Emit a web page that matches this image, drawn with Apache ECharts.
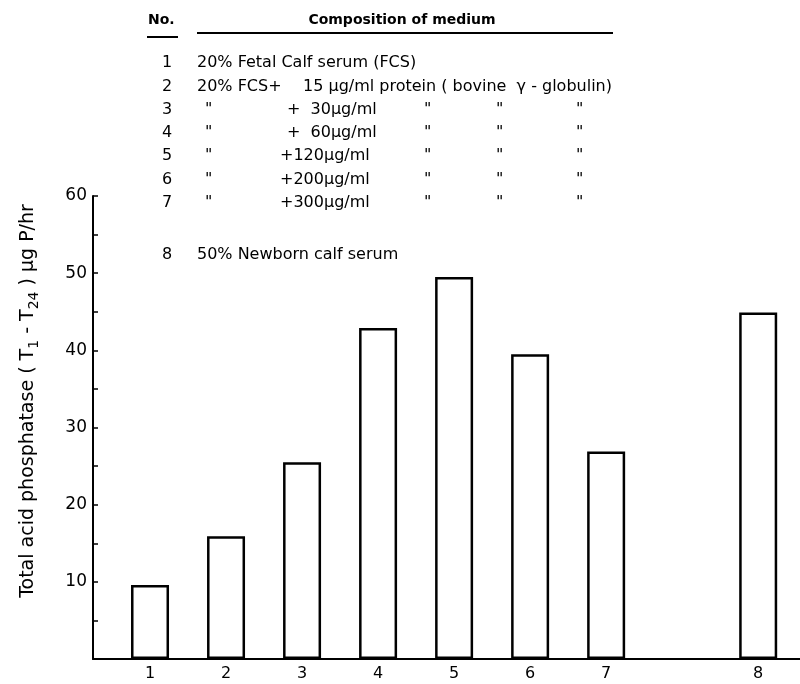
<!DOCTYPE html>
<html>
<head>
<meta charset="utf-8">
<script src="https://cdn.jsdelivr.net/npm/echarts@6/dist/echarts.min.js"></script>
<style>html,body{margin:0;padding:0;background:#fff}#c{width:800px;height:684px}</style>
</head>
<body>
<div id="c"></div>
<script>
// ---- data ----
var categories = ['1', '2', '3', '4', '5', '6', '7', '8'];
var slotPositions = [1, 2, 3, 4, 5, 6, 7, 9];
var activity = [9.6, 15.9, 25.5, 42.9, 49.5, 39.5, 26.9, 44.9];
var yTickLabels = [10, 20, 30, 40, 50, 60];
var rowNumbers = ['1', '2', '3', '4', '5', '6', '7', '8'];
var rowMedium = ['20% Fetal Calf serum (FCS)', '20% FCS+', '"', '"', '"', '"', '"', '50% Newborn calf serum'];
var rowDose = ['', '15 μg/ml protein ( bovine  γ - globulin)', '+  30μg/ml', '+  60μg/ml', '+120μg/ml', '+200μg/ml', '+300μg/ml', ''];
var rowDitto = [false, false, true, true, true, true, true, false];
var headerNo = 'No.';
var headerComp = 'Composition of medium';

var FONT = '"DejaVu Sans", sans-serif';
var chart = echarts.init(document.getElementById('c'), null, {renderer: 'canvas'});

var barData = slotPositions.map(function (p, i) { return [p, activity[i]]; });

var graphics = [];
// header
graphics.push({type: 'text', left: 148, top: 13, style: {text: headerNo, font: 'bold 14px ' + FONT, fill: '#000'}});
graphics.push({type: 'line', shape: {x1: 147, y1: 37, x2: 178, y2: 37}, style: {stroke: '#000', lineWidth: 2}});
graphics.push({type: 'text', x: 402, y: 20, style: {text: headerComp, font: 'bold 14px ' + FONT, fill: '#000', align: 'center', verticalAlign: 'middle'}});
graphics.push({type: 'line', shape: {x1: 197, y1: 33, x2: 613, y2: 33}, style: {stroke: '#000', lineWidth: 2}});
var rowY = [63, 87, 110, 133, 156, 180, 203, 255];
for (var i = 0; i < rowNumbers.length; i++) {
  var y = rowY[i];
  graphics.push({type: 'text', x: 167, y: y, style: {text: rowNumbers[i], font: '16px ' + FONT, fill: '#000', align: 'center', verticalAlign: 'middle'}});
  var mx = rowMedium[i] === '"' ? 205 : 197;
  graphics.push({type: 'text', x: mx, y: y, style: {text: rowMedium[i], font: '16px ' + FONT, fill: '#000', verticalAlign: 'middle'}});
  if (rowDose[i]) {
    var dx = i === 1 ? 303 : (rowDose[i].charAt(1) === ' ' ? 287 : 280);
    graphics.push({type: 'text', x: dx, y: y, style: {text: rowDose[i], font: '16px ' + FONT, fill: '#000', verticalAlign: 'middle'}});
  }
  if (rowDitto[i]) {
    [424, 496, 576].forEach(function (x) {
      graphics.push({type: 'text', x: x, y: y, style: {text: '"', font: '16px ' + FONT, fill: '#000', verticalAlign: 'middle'}});
    });
  }
}
// y-axis title
graphics.push({
  type: 'text', x: 28, y: 401, rotation: Math.PI / 2,
  style: {
    text: 'Total acid phosphatase ( T{sub|1} - T{sub|24} ) μg P/hr',
    font: '19px ' + FONT, fill: '#000', align: 'center', verticalAlign: 'middle',
    rich: {sub: {fontSize: 14, fontFamily: FONT, fill: '#000', verticalAlign: 'bottom', padding: [12, 0, 0, 0]}}
  }
});

chart.setOption({
  backgroundColor: '#fff',
  animation: false,
  grid: {left: 93, right: 0, top: 196, bottom: 25},
  xAxis: {
    type: 'value', min: 0.25, max: 9.55,
    axisLine: {show: true, lineStyle: {color: '#000', width: 2}},
    axisTick: {show: false},
    splitLine: {show: false},
    axisLabel: {
      customValues: slotPositions,
      formatter: function (v) { var k = slotPositions.indexOf(v); return k >= 0 ? categories[k] : ''; },
      color: '#000', fontSize: 16, fontFamily: FONT, margin: 7
    }
  },
  yAxis: {
    type: 'value', min: 0, max: 60, interval: 5,
    axisLine: {show: true, lineStyle: {color: '#000', width: 2}},
    axisTick: {show: true, inside: true, length: 5, lineStyle: {color: '#000', width: 1.5}},
    splitLine: {show: false},
    axisLabel: {
      formatter: function (v) { return yTickLabels.indexOf(v) >= 0 ? String(v) : ''; },
      color: '#000', fontSize: 17, fontFamily: FONT, margin: 6
    }
  },
  series: [{
    type: 'bar',
    data: barData,
    barWidth: 38,
    itemStyle: {color: '#fff', borderColor: '#000', borderWidth: 2.5},
    z: 3
  }],
  graphic: graphics
});
</script>
</body>
</html>
